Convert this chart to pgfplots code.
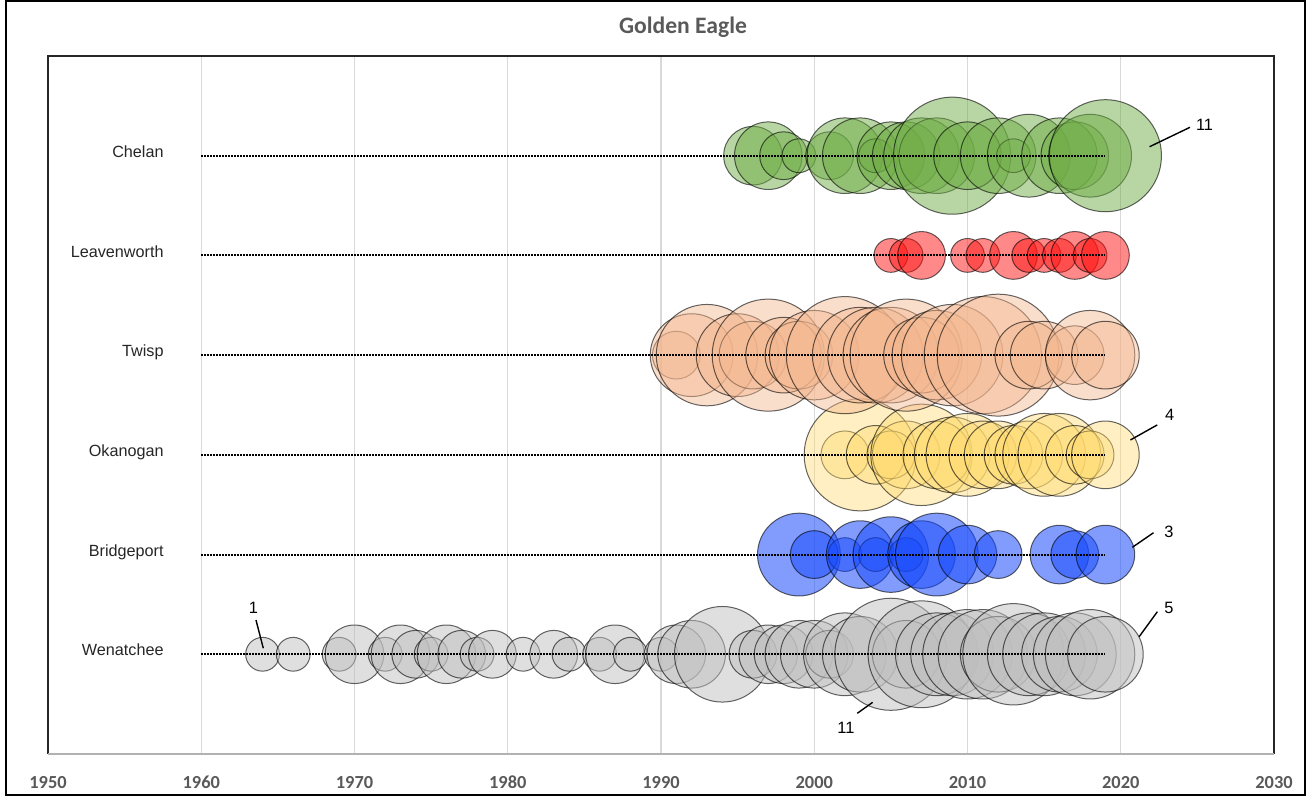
\documentclass[border=0pt]{standalone}
\usepackage{pgfplots}
\pgfplotsset{compat=1.18}
\usepackage{pgfplotstable}
\usepackage{fontspec}
\setmainfont{Liberation Sans}
\newfontfamily\carlito{Carlito}
\definecolor{cChelan}{RGB}{112,173,71}
\definecolor{cLeav}{RGB}{255,20,20}
\definecolor{cTwisp}{RGB}{243,182,142}
\definecolor{cOkan}{RGB}{255,218,110}
\definecolor{cBridge}{RGB}{25,75,252}
\definecolor{cWen}{RGB}{191,191,191}
\definecolor{c89}{RGB}{89,89,89}
\definecolor{cgrid}{RGB}{217,217,217}

\pgfplotstableread{
year y v
1996 6 3
1997 6 4
1998 6 2
1999 6 1
2001 6 2
2002 6 5
2003 6 5
2004 6 1
2005 6 4
2006 6 4
2007 6 5
2008 6 5
2009 6 12
2010 6 4
2012 6 5
2013 6 1
2014 6 6
2016 6 5
2017 6 4
2018 6 6
2019 6 11
}\chelan

\pgfplotstableread{
year y v
2005 5 1
2006 5 1
2007 5 2
2010 5 1
2011 5 1
2013 5 2
2014 5 1
2015 5 1
2016 5 1
2017 5 2
2018 5 1
2019 5 2
}\leavenworth

\pgfplotstableread{
year y v
1991 4 2
1992 4 6
1993 4 9
1995 4 6
1996 4 4
1997 4 11
1998 4 5
1999 4 4
2000 4 7
2002 4 12
2003 4 8
2004 4 8
2005 4 8
2006 4 11
2007 4 5
2008 4 7
2009 4 9
2011 4 12
2012 4 13
2014 4 4
2015 4 4
2017 4 3
2018 4 7
2019 4 4
}\twisp

\pgfplotstableread{
year y v
2002 3 2
2003 3 11
2004 3 3
2005 3 2
2006 3 4
2007 3 9
2008 3 4
2009 3 5
2010 3 6
2011 3 4
2012 3 4
2013 3 3
2014 3 4
2015 3 6
2016 3 6
2017 3 3
2018 3 2
2019 3 4
}\okanogan

\pgfplotstableread{
year y v
1999 2 6
2000 2 2
2002 2 1
2003 2 4
2004 2 1
2005 2 5
2006 2 1
2007 2 4
2008 2 6
2010 2 3
2012 2 2
2016 2 3
2017 2 2
2019 2 3
}\bridgeport

\pgfplotstableread{
year y v
1964 1 1
1966 1 1
1969 1 1
1970 1 3
1972 1 1
1973 1 3
1974 1 2
1975 1 1
1976 1 3
1977 1 2
1978 1 1
1979 1 2
1981 1 1
1983 1 2
1984 1 1
1986 1 1
1987 1 3
1988 1 1
1990 1 1
1991 1 3
1992 1 4
1994 1 8
1996 1 2
1997 1 3
1998 1 3
1999 1 4
2000 1 4
2001 1 2
2002 1 6
2003 1 5
2005 1 11
2006 1 4
2007 1 10
2008 1 6
2009 1 6
2010 1 7
2011 1 7
2012 1 5
2013 1 9
2014 1 6
2015 1 6
2016 1 5
2017 1 6
2018 1 7
2019 1 5
}\wenatchee

\pgfplotsset{
  bubble/.style 2 args={scatter, only marks, mark=*,
    scatter/use mapped color={draw=black, fill=#1},
    mark options={fill opacity=#2, draw opacity=0.6, line width=0.5pt},
    visualization depends on={sqrt(\thisrow{v})*8.45 \as \rad},
    scatter/@pre marker code/.append style={/tikz/mark size=\rad}},
  rowline/.style={black, line width=1pt, dash pattern=on 0.9pt off 0.6pt},
}

\begin{document}
\begin{tikzpicture}
\useasboundingbox (0pt,0pt) rectangle (653.5pt,398pt);
\draw[line width=1pt] (3pt,0.5pt) rectangle (652.5pt,397.5pt);
\node[anchor=base, font=\carlito\bfseries\fontsize{11.8}{13}\selectfont, text=c89] at (341.5pt,381.3pt) {Golden Eagle};
\begin{axis}[
  at={(24pt,21pt)}, anchor=south west,
  scale only axis, width=613pt, height=349pt,
  xmin=1950, xmax=2030, ymin=0, ymax=7,
  clip=false, clip marker paths=true,
  axis line style={draw=none},
  xtick={1950,1960,1970,1980,1990,2000,2010,2020,2030},
  xticklabels={1950,1960,1970,1980,1990,2000,2010,2020,2030},
  ytick=\empty,
  major tick length=0pt,
  xmajorgrids, grid style={cgrid, line width=0.6pt},
  xticklabel style={font=\carlito\bfseries\fontsize{9.2}{10}\selectfont, text=c89, anchor=north, yshift=-7.5pt},
]
\addplot[bubble={cWen}{0.5}] table[x=year, y=y] {\wenatchee};
\addplot[bubble={cBridge}{0.55}] table[x=year, y=y] {\bridgeport};
\addplot[bubble={cOkan}{0.42}] table[x=year, y=y] {\okanogan};
\addplot[bubble={cTwisp}{0.45}] table[x=year, y=y] {\twisp};
\addplot[bubble={cLeav}{0.5}] table[x=year, y=y] {\leavenworth};
\addplot[bubble={cChelan}{0.5}] table[x=year, y=y] {\chelan};

\addplot[rowline] coordinates {(1960,1) (2019,1)};
\addplot[rowline] coordinates {(1960,2) (2019,2)};
\addplot[rowline] coordinates {(1960,3) (2019,3)};
\addplot[rowline] coordinates {(1960,4) (2019,4)};
\addplot[rowline] coordinates {(1960,5) (2019,5)};
\addplot[rowline] coordinates {(1960,6) (2019,6)};

% borders
\draw[black!85, line width=0.6pt] (rel axis cs:0,0) -- (rel axis cs:0,1) -- (rel axis cs:1,1) -- (rel axis cs:1,0);
\draw[black!30, line width=0.6pt] (rel axis cs:0,0) -- (rel axis cs:1,0);

% row labels
\begin{scope}[every node/.style={anchor=base east, font=\fontsize{8.1}{9}\selectfont, text=black!85, inner sep=0pt}]
\node at (axis cs:1957.57,5.984) {Chelan};
\node at (axis cs:1957.57,4.984) {Leavenworth};
\node at (axis cs:1957.57,3.984) {Twisp};
\node at (axis cs:1957.57,2.984) {Okanogan};
\node at (axis cs:1957.57,1.984) {Bridgeport};
\node at (axis cs:1957.57,0.984) {Wenatchee};
\end{scope}

% annotations
\begin{scope}[every node/.style={anchor=base, font=\fontsize{8.2}{9}\selectfont, inner sep=0pt}]
\node at (axis cs:2025.47,6.251) {11};
\node at (axis cs:2023.2,3.343) {4};
\node at (axis cs:2023.14,2.173) {3};
\node at (axis cs:2023.14,1.411) {5};
\node at (axis cs:1963.4,1.404) {1};
\node at (axis cs:2002.07,0.21) {11};
\end{scope}
\begin{scope}[line width=0.7pt]
\draw (axis cs:2021.88,6.09) -- (axis cs:2024.52,6.285);
\draw (axis cs:2020.63,3.149) -- (axis cs:2022.38,3.30);
\draw (axis cs:2020.76,2.073) -- (axis cs:2022.14,2.219);
\draw (axis cs:2021.2,1.176) -- (axis cs:2022.39,1.427);
\draw (axis cs:1963.57,1.344) -- (axis cs:1964.05,1.06);
\draw (axis cs:2002.81,0.408) -- (axis cs:2003.81,0.518);
\end{scope}
\end{axis}
\end{tikzpicture}
\end{document}
